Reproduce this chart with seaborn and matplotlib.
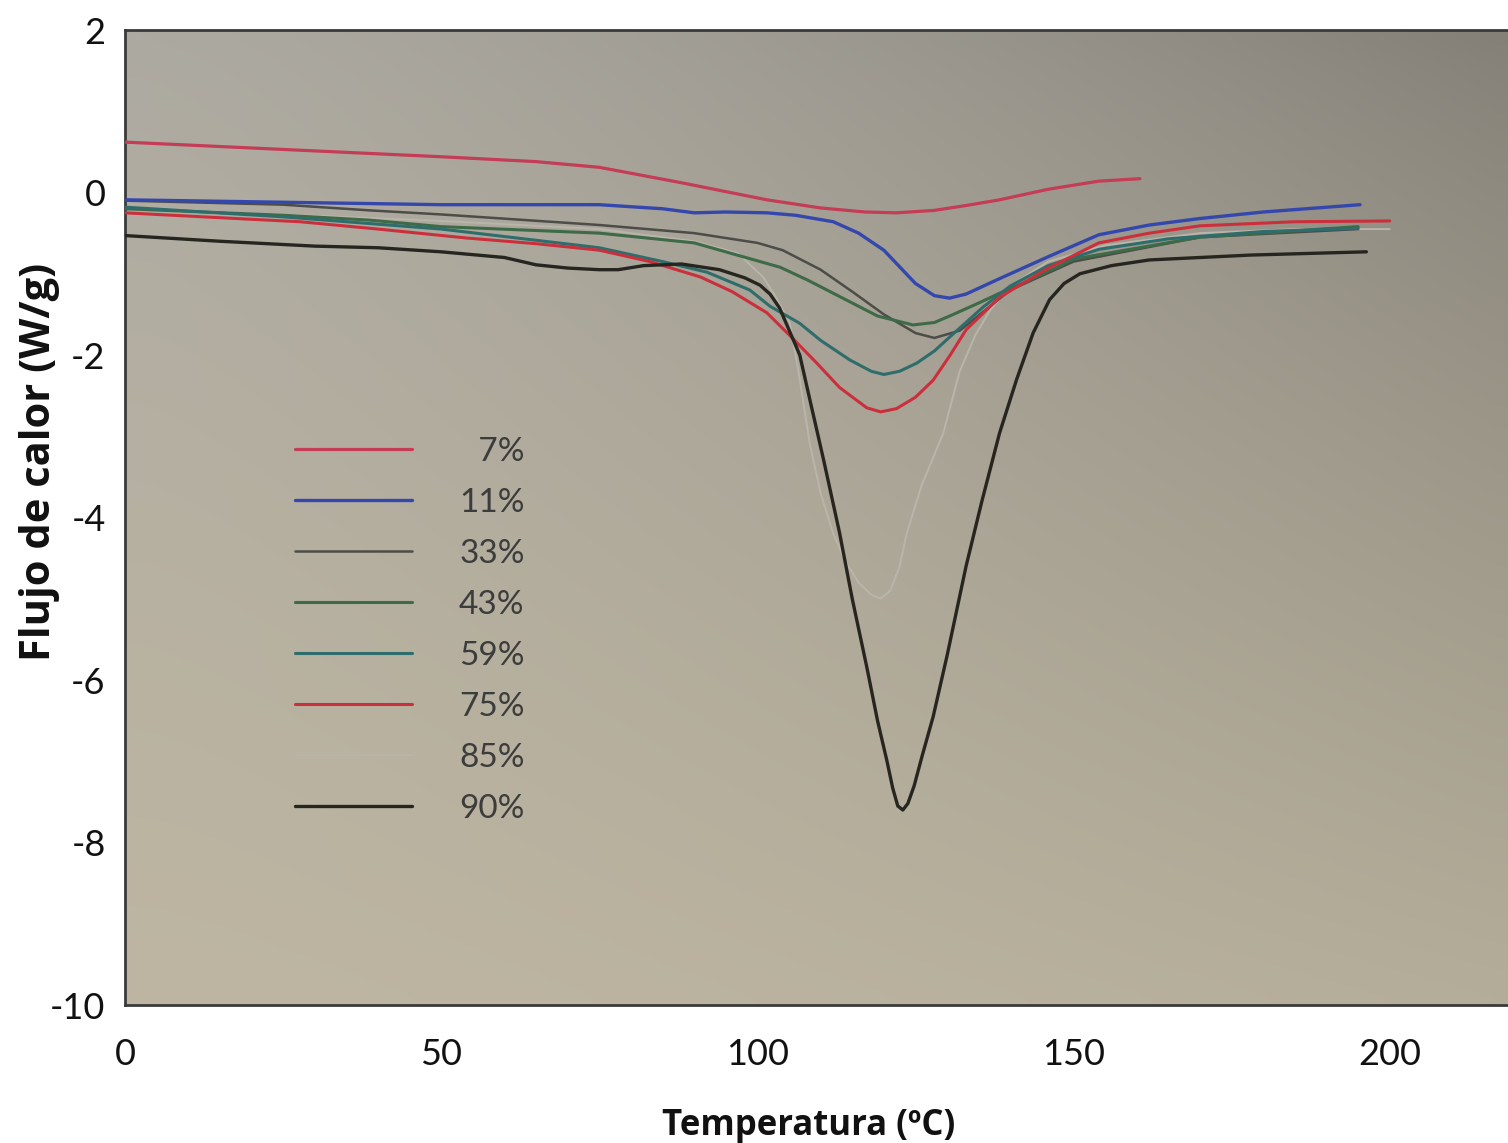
import numpy as np
import pandas as pd
import matplotlib
matplotlib.use("Agg")
import matplotlib.pyplot as plt
import seaborn as sns

# DSC heat-flow curves (W/g) versus temperature (°C) for each sample
labels = ["7%", "11%", "33%", "43%", "59%", "75%", "85%", "90%"]

t_07 = [0, 25, 50, 65, 75, 88, 101.5, 110, 117, 122, 128, 133, 138.3, 146, 154, 160.5]
q_07 = [0.62, 0.53, 0.44, 0.38, 0.31, 0.12, -0.09, -0.19, -0.24, -0.25, -0.22, -0.16, -0.09, 0.04, 0.14, 0.17]

t_11 = [0, 25, 50, 75, 85, 90, 95, 101.5, 106, 112, 116, 120, 125, 128, 130.4, 133, 138.3, 146, 154, 162, 170, 180, 195.3]
q_11 = [-0.09, -0.12, -0.15, -0.15, -0.2, -0.25, -0.24, -0.25, -0.28, -0.36, -0.5, -0.71, -1.12, -1.27, -1.30, -1.25, -1.06, -0.79, -0.52, -0.4, -0.32, -0.24, -0.15]

t_33 = [0, 25, 38.7, 50, 75, 90, 100, 104, 110, 115, 120, 125, 128, 132, 136, 140, 150, 170, 195]
q_33 = [-0.1, -0.15, -0.22, -0.27, -0.4, -0.5, -0.62, -0.71, -0.95, -1.22, -1.5, -1.73, -1.79, -1.7, -1.45, -1.2, -0.85, -0.55, -0.45]

t_43 = [0, 25, 38.7, 50, 75, 90, 103.6, 108, 114, 119, 124.6, 128, 131, 135, 138.3, 143, 150, 170, 195]
q_43 = [-0.2, -0.28, -0.34, -0.42, -0.5, -0.62, -0.92, -1.08, -1.32, -1.52, -1.63, -1.6, -1.5, -1.36, -1.24, -1.08, -0.82, -0.55, -0.42]

t_59 = [0, 25, 50, 75, 85, 92, 98.8, 102, 106.7, 110, 114.6, 118, 120, 122.5, 125.2, 128, 130.4, 135.7, 140, 146, 154, 165, 180, 195]
q_59 = [-0.18, -0.3, -0.45, -0.68, -0.85, -0.98, -1.2, -1.4, -1.61, -1.82, -2.06, -2.2, -2.24, -2.2, -2.10, -1.95, -1.78, -1.41, -1.15, -0.9, -0.7, -0.57, -0.48, -0.44]

t_75 = [0, 15, 27.7, 40, 54, 65, 75, 83, 91, 96, 101.5, 105, 109.4, 113, 117.3, 119.5, 122, 125, 127.8, 130.5, 133, 138.3, 146, 154, 162, 170, 185, 200]
q_75 = [-0.25, -0.31, -0.36, -0.45, -0.56, -0.63, -0.71, -0.85, -1.04, -1.22, -1.48, -1.75, -2.10, -2.4, -2.65, -2.70, -2.66, -2.52, -2.31, -2.0, -1.69, -1.29, -0.93, -0.62, -0.5, -0.41, -0.36, -0.35]

t_85 = [0, 25, 50, 75, 90, 97, 101, 103, 105.1, 106.5, 108.3, 110, 112, 114, 116, 118, 119.5, 121, 122.5, 123.6, 126, 129.4, 132, 134.5, 136.8, 140, 146, 155, 170, 185, 200]
q_85 = [-0.2, -0.27, -0.35, -0.45, -0.6, -0.75, -1.05, -1.3, -1.6, -2.2, -3.1, -3.7, -4.2, -4.55, -4.8, -4.95, -5.0, -4.9, -4.6, -4.2, -3.6, -2.96, -2.2, -1.75, -1.45, -1.15, -0.85, -0.65, -0.5, -0.45, -0.45]

t_90 = [0, 15, 30, 40, 50, 60, 65, 70, 75, 78, 82, 88, 94, 98, 100.4, 102, 103.5, 105, 106.7, 108.3, 110.5, 113, 115, 117.3, 119, 120.5, 121.4, 122.2, 123, 123.8, 124.8, 126, 127.8, 130, 133, 135.5, 138.3, 141, 143.6, 146.2, 148.5, 151, 156, 162, 170, 178, 196.3]
q_90 = [-0.53, -0.6, -0.66, -0.68, -0.73, -0.8, -0.89, -0.93, -0.95, -0.95, -0.9, -0.88, -0.95, -1.05, -1.14, -1.25, -1.42, -1.69, -2.0, -2.55, -3.3, -4.19, -5.0, -5.84, -6.5, -7.0, -7.33, -7.55, -7.6, -7.52, -7.3, -6.95, -6.45, -5.7, -4.6, -3.8, -2.96, -2.3, -1.73, -1.32, -1.12, -1.0, -0.9, -0.83, -0.8, -0.77, -0.73]

x_ticks = [0, 50, 100, 150, 200]
y_ticks = [2, 0, -2, -4, -6, -8, -10]

series = [t_07, t_11, t_33, t_43, t_59, t_75, t_85, t_90]
values = [q_07, q_11, q_33, q_43, q_59, q_75, q_85, q_90]

frames = []
for lab, t, q in zip(labels, series, values):
    frames.append(pd.DataFrame({"T": t, "Q": q, "muestra": lab}))
df = pd.concat(frames, ignore_index=True)

colors = {"7%": "#c43c55", "11%": "#3447ad", "33%": "#4c4c48", "43%": "#3d6a47",
          "59%": "#2f6d6c", "75%": "#cc2f3c", "85%": "#b9b5aa", "90%": "#262520"}
widths = {"7%": 2.3, "11%": 2.4, "33%": 1.8, "43%": 2.2, "59%": 2.2,
          "75%": 2.2, "85%": 1.4, "90%": 2.4}
zorders = {"85%": 2, "33%": 3, "43%": 4, "59%": 5, "75%": 6, "7%": 7, "11%": 8, "90%": 9}

sns.set_theme(style="white")
plt.rcParams["font.family"] = ["Lato", "DejaVu Sans"]

fig = plt.figure(figsize=(15.08, 11.43), dpi=100)
fig.patch.set_facecolor("white")
ax = fig.add_axes([125 / 1508, 1 - 1005 / 1143, 1 - 125 / 1508, 975 / 1143])

# photographed paper background: soft gradient inside the plot area,
# darker towards the upper right corner
ny, nx = 60, 80
yy, xx = np.mgrid[0:1:ny * 1j, 0:1:nx * 1j]
wx = xx ** 1.4
wy = yy ** 0.8
tl = np.array([172, 169, 161]); tr = np.array([132, 128, 120])
bl = np.array([190, 182, 162]); br = np.array([180, 173, 153])
grad = ((1 - wx)[..., None] * (1 - wy)[..., None] * tl + wx[..., None] * (1 - wy)[..., None] * tr
        + (1 - wx)[..., None] * wy[..., None] * bl + wx[..., None] * wy[..., None] * br) / 255.0
ax.imshow(grad, extent=[0, 1, 0, 1], transform=ax.transAxes, aspect="auto",
          interpolation="bicubic", zorder=0)

for lab in labels:
    sub = df[df["muestra"] == lab]
    sns.lineplot(data=sub, x="T", y="Q", ax=ax, color=colors[lab], lw=widths[lab],
                 sort=False, estimator=None, label=lab, zorder=zorders[lab])
for ln in ax.lines:
    ln.set_solid_joinstyle("round")
    ln.set_solid_capstyle("round")

ax.set_xlim(0, 218.7)
ax.set_ylim(-10, 2)
ax.set_xticks(x_ticks)
ax.set_yticks(y_ticks)
ax.set_xticklabels([str(v) for v in x_ticks])
ax.set_yticklabels([str(v) for v in y_ticks])
ax.tick_params(axis="x", direction="in", length=9, width=1.2, color="#333333",
               labelsize=26, pad=24, labelcolor="#111111")
ax.tick_params(axis="y", direction="in", length=7, width=1.2, color="#333333",
               labelsize=26, pad=14, labelcolor="#111111")

for side in ["left", "bottom", "top"]:
    ax.spines[side].set_visible(True)
    ax.spines[side].set_color("#3a3a3a")
    ax.spines[side].set_linewidth(2.0)
ax.spines["right"].set_visible(False)

ax.set_xlabel("Temperatura (ºC)", fontsize=25, fontweight="bold", color="#111111",
              family=["Open Sans", "DejaVu Sans"])
ax.set_ylabel("Flujo de calor (W/g)", fontsize=30, fontweight="bold", color="#111111",
              family=["Open Sans", "DejaVu Sans"])
ax.xaxis.set_label_coords(0.494, -0.106)
ax.yaxis.set_label_coords(-0.047, 0.557)

handles, labs = ax.get_legend_handles_labels()
shown = ["\u2007" + l if len(l) == 2 else l for l in labs]
leg = ax.legend(handles, shown, loc="upper left", bbox_to_anchor=(0.123, 0.583),
                frameon=False, fontsize=24, handlelength=3.5, handletextpad=1.42,
                labelspacing=0.63, borderpad=0, borderaxespad=0)
for txt in leg.get_texts():
    txt.set_color("#3c3c3c")

fig.savefig("out.png", dpi=100)
